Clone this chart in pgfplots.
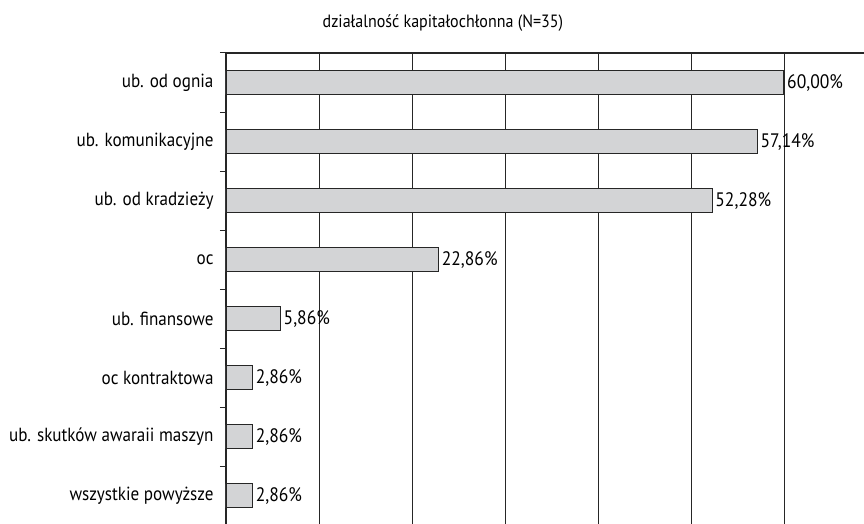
\documentclass[border=0pt]{standalone}
\usepackage{fontspec}
\setmainfont[FakeStretch=0.9]{PT Sans}
\usepackage{pgfplots}
\pgfplotsset{compat=1.18}
\definecolor{barfill}{HTML}{D3D4D6}
\definecolor{edge}{HTML}{262626}
\begin{document}
\begin{tikzpicture}
\begin{axis}[
    name=ax,
    scale only axis,
    width=638bp, height=471bp,
    xbar, bar width=24bp,
    xmin=0, xmax=68.6, ymin=-0.48, ymax=7.5,
    axis x line*=top, axis y line*=left,
    axis line style={edge, line width=1.1bp},
    xtick={10,20,...,60}, xticklabels={},
    xmajorgrids, grid style={edge, line width=0.9bp},
    major tick length=0pt,
    ytick={0,...,7},
    yticklabels={wszystkie powyższe, ub. skutków awaraii maszyn, oc kontraktowa, ub. finansowe, oc, ub. od kradzieży, ub. komunikacyjne, ub. od ognia},
    yticklabel style={font=\fontsize{19bp}{23bp}\selectfont, xshift=-9bp},
    extra y ticks={0.5,1.5,...,7.5}, extra y tick labels={},
    extra y tick style={major tick length=6bp, tick align=outside, tick style={edge, line width=1bp}},
    title={działalność kapitałochłonna (N=35)},
    title style={at={(0.34,1)}, anchor=base, yshift=20bp, font=\fontsize{17.8bp}{21bp}\selectfont},
    nodes near coords,
    point meta=explicit symbolic,
    nodes near coords style={anchor=west, inner sep=2.5bp, font=\fontsize{19.5bp}{23bp}\selectfont},
]
\addplot[fill=barfill, draw=edge, line width=1.4bp] coordinates {
    (60.00,7) [60,00\%]
    (57.14,6) [57,14\%]
    (52.28,5) [52,28\%]
    (22.86,4) [22,86\%]
    (5.86,3)  [5,86\%]
    (2.86,2)  [2,86\%]
    (2.86,1)  [2,86\%]
    (2.86,0)  [2,86\%]
};
\end{axis}
\pgfresetboundingbox
\path ([xshift=-226bp]ax.south west) rectangle ([yshift=53bp]ax.north east);
\end{tikzpicture}
\end{document}
